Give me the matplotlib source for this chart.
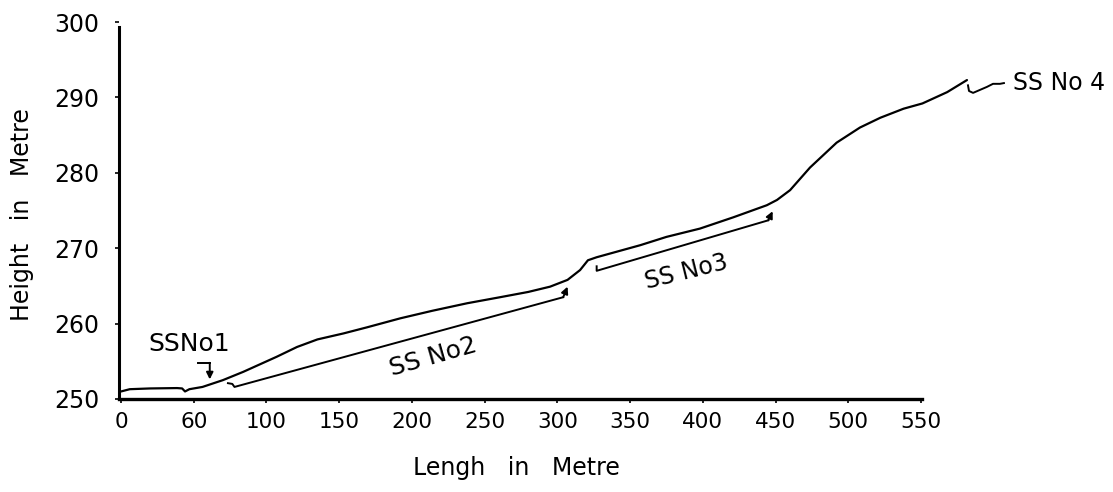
import numpy as np
import matplotlib
matplotlib.use("Agg")
import matplotlib.pyplot as plt

plt.rcParams['font.family'] = ['DejaVu Sans']

# ground profile (length m, height m)
length = [0, 6, 20, 38.5, 42, 44, 47, 56, 70, 84, 107, 121, 135, 153, 169,
          192, 214, 238, 260.6, 280, 295, 307, 315.6, 321, 327, 357, 375,
          398, 421, 444, 451, 460, 473.7, 492, 508, 522, 538, 551, 568, 581.6]
height = [251.0, 251.3, 251.4, 251.45, 251.4, 251.0, 251.3, 251.6, 252.5,
          253.6, 255.6, 256.9, 257.9, 258.7, 259.5, 260.7, 261.7, 262.7,
          263.5, 264.2, 264.9, 265.8, 267.1, 268.4, 268.8, 270.4, 271.5,
          272.6, 274.1, 275.7, 276.4, 277.7, 280.7, 284.0, 286.0, 287.3,
          288.5, 289.2, 290.7, 292.3]

# sub-station brackets drawn under the profile
ss2_x = [73.5, 76.5, 78, 304]
ss2_y = [252.1, 252.0, 251.6, 263.5]
ss2_tip = (307, 264.9)
ss3_x = [327, 327, 445]
ss3_y = [267.6, 267.0, 273.7]
ss3_tip = (448, 274.9)
ss1_x = [53, 61]
ss1_y = [254.8, 254.8]
ss1_tip = (61, 252.6)
ss4_x = [582.3, 583, 585.8, 590.6, 595.4, 599.5, 604.3, 607]
ss4_y = [291.6, 290.85, 290.6, 291.0, 291.4, 291.8, 291.8, 291.9]

xticks = [0, 50, 100, 150, 200, 250, 300, 350, 400, 450, 500, 550]
xticklabels = ['0', '60', '100', '150', '200', '250', '300', '350', '400',
               '450', '500', '550']
yticks = [250, 260, 270, 280, 290, 300]

fig = plt.figure(figsize=(11.13, 4.92), dpi=100)
ax = fig.add_axes([119 / 1113, 93 / 492, (1113 - 119) / 1113, 377 / 492])

ax.plot(length, height, color='black', lw=1.6, solid_capstyle='round')

for bx, by, tip in [(ss2_x, ss2_y, ss2_tip), (ss3_x, ss3_y, ss3_tip)]:
    ax.plot(bx, by, color='black', lw=1.4)
    ax.annotate('', xy=tip, xytext=(bx[-1], by[-1]),
                arrowprops=dict(arrowstyle='-|>', color='black', lw=1.4,
                                mutation_scale=10, shrinkA=0, shrinkB=0))
ax.plot(ss1_x, ss1_y, color='black', lw=1.4)
ax.annotate('', xy=ss1_tip, xytext=(ss1_x[-1], ss1_y[-1]),
            arrowprops=dict(arrowstyle='-|>', color='black', lw=1.4,
                            mutation_scale=10, shrinkA=0, shrinkB=0))
ax.plot(ss4_x, ss4_y, color='black', lw=1.4)

ax.text(46.8, 257.3, 'SSNo1', fontsize=18, ha='center', va='center')
ax.text(214.5, 255.6, 'SS No2', fontsize=18, ha='center', va='center',
        rotation=16, rotation_mode='anchor')
ax.text(389, 266.8, 'SS No3', fontsize=17, ha='center', va='center',
        rotation=14, rotation_mode='anchor')
ax.text(645, 291.9, 'SS No 4', fontsize=17, ha='center', va='center')

ax.set_xlim(-1.4, 682)
ax.set_ylim(250, 300)
ax.set_xticks(xticks)
ax.set_xticklabels(xticklabels)
ax.set_yticks(yticks)
ax.spines['top'].set_visible(False)
ax.spines['right'].set_visible(False)
ax.spines['left'].set_linewidth(2.2)
ax.spines['bottom'].set_linewidth(2.4)
ax.spines['left'].set_bounds(250, 299.3)
ax.spines['bottom'].set_bounds(-1.4, 551)
ax.tick_params(axis='y', length=3, width=1.2, labelsize=17, pad=11)
ax.tick_params(axis='x', length=3, width=1.2, labelsize=15.5, pad=6)

fig.text(516 / 1113, 1 - 468 / 492, 'Lengh   in   Metre', fontsize=17,
         ha='center', va='center')
fig.text(22 / 1113, 1 - 215 / 492, 'Height   in   Metre', fontsize=17,
         ha='center', va='center', rotation=90)

fig.savefig('out.png', dpi=100)
